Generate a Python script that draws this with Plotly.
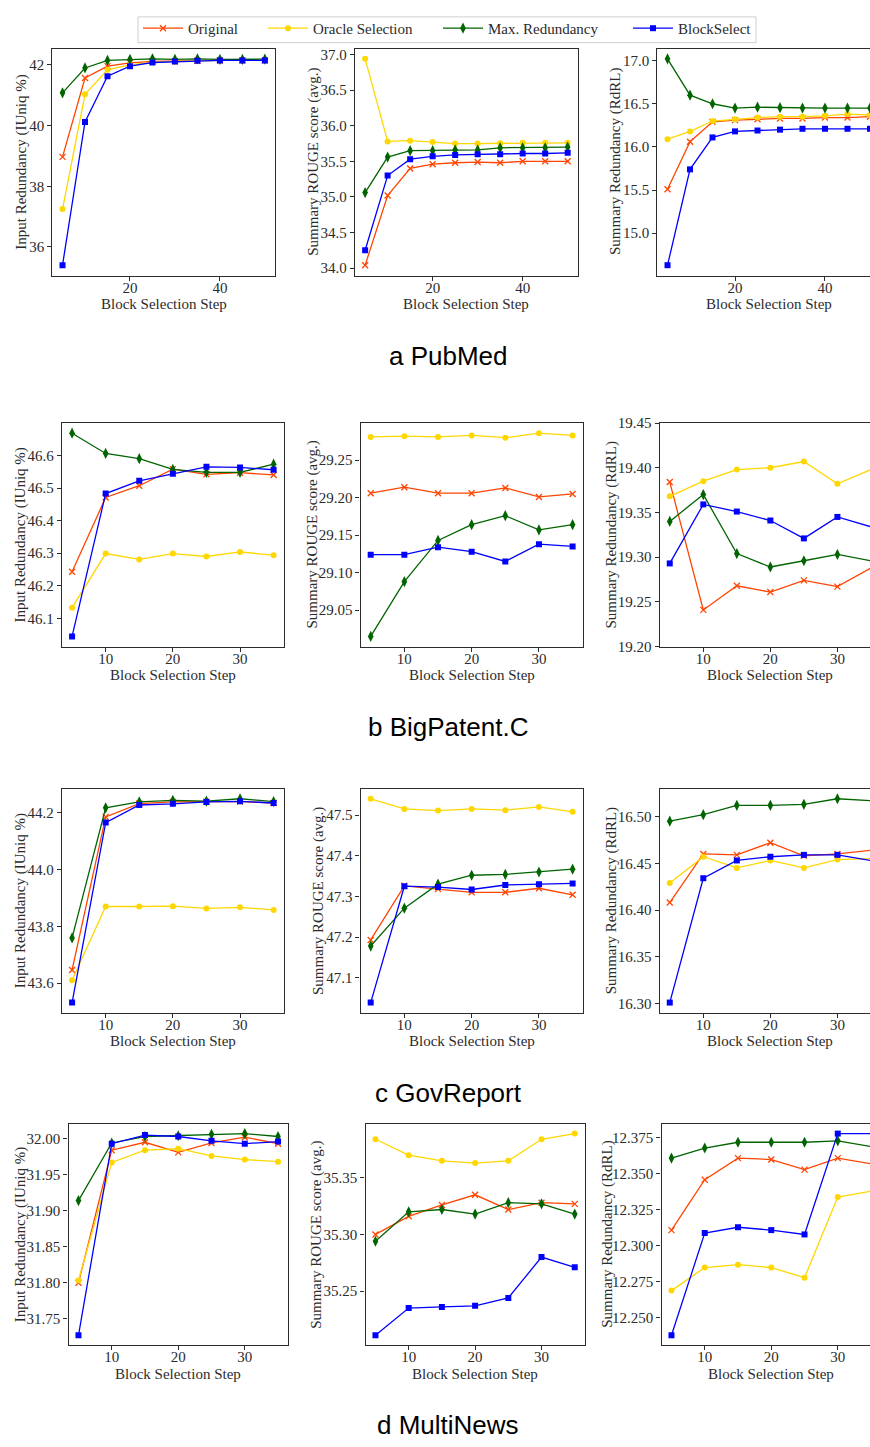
import plotly.graph_objects as go
from plotly.subplots import make_subplots

# ---------------- data ----------------
methods = ["Original", "Oracle Selection", "Max. Redundancy", "BlockSelect"]
steps_pubmed = [5, 10, 15, 20, 25, 30, 35, 40, 45, 50]
steps_short = [5, 10, 15, 20, 25, 30, 35]
row_titles = ["a PubMed", "b BigPatent.C", "c GovReport", "d MultiNews"]
y_titles = ["Input Redundancy (IUniq %)", "Summary ROUGE score (avg.)", "Summary Redundancy (RdRL)"]
x_title = "Block Selection Step"

# PubMed
pubmed_iuniq_original = [38.97, 41.57, 41.96, 42.07, 42.12, 42.12, 42.14, 42.15, 42.15, 42.15]
pubmed_iuniq_oracle = [37.25, 41.03, 41.84, 42.00, 42.09, 42.12, 42.14, 42.15, 42.15, 42.15]
pubmed_iuniq_maxred = [41.08, 41.90, 42.15, 42.18, 42.20, 42.18, 42.20, 42.18, 42.18, 42.19]
pubmed_iuniq_block = [35.40, 40.12, 41.63, 41.96, 42.08, 42.11, 42.14, 42.15, 42.15, 42.15]

pubmed_rouge_original = [34.04, 35.02, 35.40, 35.46, 35.48, 35.49, 35.48, 35.50, 35.50, 35.50]
pubmed_rouge_oracle = [36.94, 35.78, 35.79, 35.77, 35.75, 35.75, 35.755, 35.76, 35.76, 35.76]
pubmed_rouge_maxred = [35.06, 35.56, 35.65, 35.65, 35.66, 35.66, 35.69, 35.69, 35.69, 35.70]
pubmed_rouge_block = [34.25, 35.30, 35.53, 35.57, 35.59, 35.60, 35.60, 35.61, 35.61, 35.62]

pubmed_rdrl_original = [15.51, 16.06, 16.29, 16.31, 16.32, 16.33, 16.33, 16.34, 16.34, 16.35]
pubmed_rdrl_oracle = [16.09, 16.18, 16.30, 16.32, 16.34, 16.35, 16.35, 16.36, 16.38, 16.37]
pubmed_rdrl_maxred = [17.02, 16.60, 16.50, 16.45, 16.46, 16.455, 16.45, 16.45, 16.45, 16.45]
pubmed_rdrl_block = [14.63, 15.74, 16.11, 16.18, 16.19, 16.20, 16.21, 16.21, 16.21, 16.21]

# BigPatent.C
bigpatent_iuniq_original = [46.243, 46.471, 46.507, 46.558, 46.542, 46.547, 46.540]
bigpatent_iuniq_oracle = [46.133, 46.299, 46.281, 46.299, 46.290, 46.304, 46.294]
bigpatent_iuniq_maxred = [46.668, 46.606, 46.590, 46.557, 46.548, 46.548, 46.573]
bigpatent_iuniq_block = [46.045, 46.483, 46.522, 46.544, 46.565, 46.563, 46.556]

bigpatent_rouge_original = [29.206, 29.214, 29.206, 29.206, 29.213, 29.201, 29.205]
bigpatent_rouge_oracle = [29.281, 29.282, 29.281, 29.283, 29.280, 29.286, 29.283]
bigpatent_rouge_maxred = [29.015, 29.088, 29.143, 29.164, 29.176, 29.157, 29.164]
bigpatent_rouge_block = [29.124, 29.124, 29.134, 29.128, 29.115, 29.138, 29.135]

bigpatent_rdrl_original = [19.384, 19.241, 19.268, 19.261, 19.274, 19.267, 19.288]
bigpatent_rdrl_oracle = [19.368, 19.385, 19.398, 19.400, 19.407, 19.382, 19.398]
bigpatent_rdrl_maxred = [19.340, 19.370, 19.304, 19.289, 19.296, 19.303, 19.296]
bigpatent_rdrl_block = [19.293, 19.359, 19.351, 19.341, 19.321, 19.345, 19.334]

# GovReport
govreport_iuniq_original = [43.646, 44.186, 44.233, 44.239, 44.240, 44.240, 44.235]
govreport_iuniq_oracle = [43.610, 43.870, 43.870, 43.871, 43.863, 43.867, 43.858]
govreport_iuniq_maxred = [43.759, 44.218, 44.239, 44.244, 44.242, 44.250, 44.240]
govreport_iuniq_block = [43.531, 44.166, 44.228, 44.232, 44.239, 44.241, 44.235]

govreport_rouge_original = [47.193, 47.326, 47.318, 47.310, 47.310, 47.320, 47.304]
govreport_rouge_oracle = [47.540, 47.515, 47.511, 47.515, 47.512, 47.520, 47.508]
govreport_rouge_maxred = [47.178, 47.271, 47.330, 47.352, 47.354, 47.360, 47.367]
govreport_rouge_block = [47.039, 47.325, 47.323, 47.317, 47.328, 47.330, 47.332]

govreport_rdrl_original = [16.408, 16.460, 16.459, 16.472, 16.458, 16.460, 16.464]
govreport_rdrl_oracle = [16.429, 16.457, 16.445, 16.453, 16.445, 16.454, 16.455]
govreport_rdrl_maxred = [16.495, 16.502, 16.512, 16.512, 16.513, 16.519, 16.517]
govreport_rdrl_block = [16.301, 16.434, 16.453, 16.457, 16.459, 16.459, 16.453]

# MultiNews
multinews_iuniq_original = [31.800, 31.984, 31.995, 31.981, 31.994, 32.002, 31.993]
multinews_iuniq_oracle = [31.803, 31.967, 31.984, 31.986, 31.976, 31.971, 31.968]
multinews_iuniq_maxred = [31.914, 31.994, 32.003, 32.004, 32.006, 32.007, 32.003]
multinews_iuniq_block = [31.727, 31.993, 32.005, 32.003, 31.997, 31.993, 31.996]

multinews_rouge_original = [35.300, 35.316, 35.326, 35.335, 35.322, 35.328, 35.327]
multinews_rouge_oracle = [35.384, 35.370, 35.365, 35.363, 35.365, 35.384, 35.389]
multinews_rouge_maxred = [35.294, 35.320, 35.322, 35.318, 35.328, 35.327, 35.318]
multinews_rouge_block = [35.211, 35.235, 35.236, 35.237, 35.244, 35.280, 35.271]

multinews_rdrl_original = [12.311, 12.346, 12.361, 12.360, 12.353, 12.361, 12.357]
multinews_rdrl_oracle = [12.269, 12.285, 12.287, 12.285, 12.278, 12.334, 12.338]
multinews_rdrl_maxred = [12.361, 12.368, 12.372, 12.372, 12.372, 12.373, 12.369]
multinews_rdrl_block = [12.238, 12.309, 12.313, 12.311, 12.308, 12.378, 12.378]

# y tick spacing / format per panel (row-major)
y_dticks = [2, 0.5, 0.5,
            0.1, 0.05, 0.05,
            0.2, 0.1, 0.05,
            0.05, 0.05, 0.025]
y_formats = [".0f", ".1f", ".1f",
             ".1f", ".2f", ".2f",
             ".1f", ".1f", ".2f",
             ".2f", ".2f", ".3f"]
x_dticks = [20, 10, 10, 10]

# ---------------- assemble panels ----------------
panels = [
    (steps_pubmed, [pubmed_iuniq_original, pubmed_iuniq_oracle, pubmed_iuniq_maxred, pubmed_iuniq_block]),
    (steps_pubmed, [pubmed_rouge_original, pubmed_rouge_oracle, pubmed_rouge_maxred, pubmed_rouge_block]),
    (steps_pubmed, [pubmed_rdrl_original, pubmed_rdrl_oracle, pubmed_rdrl_maxred, pubmed_rdrl_block]),
    (steps_short, [bigpatent_iuniq_original, bigpatent_iuniq_oracle, bigpatent_iuniq_maxred, bigpatent_iuniq_block]),
    (steps_short, [bigpatent_rouge_original, bigpatent_rouge_oracle, bigpatent_rouge_maxred, bigpatent_rouge_block]),
    (steps_short, [bigpatent_rdrl_original, bigpatent_rdrl_oracle, bigpatent_rdrl_maxred, bigpatent_rdrl_block]),
    (steps_short, [govreport_iuniq_original, govreport_iuniq_oracle, govreport_iuniq_maxred, govreport_iuniq_block]),
    (steps_short, [govreport_rouge_original, govreport_rouge_oracle, govreport_rouge_maxred, govreport_rouge_block]),
    (steps_short, [govreport_rdrl_original, govreport_rdrl_oracle, govreport_rdrl_maxred, govreport_rdrl_block]),
    (steps_short, [multinews_iuniq_original, multinews_iuniq_oracle, multinews_iuniq_maxred, multinews_iuniq_block]),
    (steps_short, [multinews_rouge_original, multinews_rouge_oracle, multinews_rouge_maxred, multinews_rouge_block]),
    (steps_short, [multinews_rdrl_original, multinews_rdrl_oracle, multinews_rdrl_maxred, multinews_rdrl_block]),
]

# ---------------- styling ----------------
W, H = 870, 1447
SERIF = "Liberation Serif, Times New Roman, serif"
INK = "#2b2b2b"

styles = [
    dict(color="#FF4500", symbol="x-thin", size=6, line=dict(width=1.3, color="#FF4500")),
    dict(color="#FFD700", symbol="circle", size=6, line=dict(width=0)),
    dict(color="#006400", symbol="diamond-tall", size=8, line=dict(width=0)),
    dict(color="#0000FF", symbol="square", size=6, line=dict(width=0)),
]
legend_widths = [70, 120, 135, 72]

# axes boxes in pixels: (left, right) per column for each row, (top, bottom) per row.
# The right-hand column runs past the page edge, so its visible part stops at W.
col_px = [
    [(52.4, 275.0), (355.0, 577.8), (657.4, 880.1)],
    [(62.0, 283.7), (360.6, 582.7), (659.7, 881.0)],
    [(62.0, 283.7), (360.6, 582.7), (659.7, 881.0)],
    [(68.5, 288.0), (365.5, 584.7), (661.5, 881.0)],
]
row_px = [(41.0, 270.5), (419.7, 645.7), (789.3, 1016.0), (1128.0, 1352.3)]
row_title_y = [352, 727, 1097, 1433]
# horizontal centre of each rotated y-axis title
ytitle_x = [
    [20.7, 312.7, 615.0],
    [20.7, 312.7, 611.7],
    [20.7, 318.3, 611.7],
    [20.7, 316.4, 607.3],
]
XTITLE_GAP = 29

fig = make_subplots(rows=4, cols=3)

for k, (xs, series) in enumerate(panels):
    r, c = divmod(k, 3)
    for m, (name, ys) in enumerate(zip(methods, series)):
        st = styles[m]
        fig.add_trace(
            go.Scatter(
                x=xs, y=ys, name=name, mode="lines+markers",
                line=dict(color=st["color"], width=1.3),
                marker=dict(symbol=st["symbol"], size=st["size"], color=st["color"], line=st["line"]),
                legendgroup=name, showlegend=(k == 0),
                legendwidth=legend_widths[m],
                cliponaxis=(c != 2),
            ),
            row=r + 1, col=c + 1,
        )

    # axis limits with 5% padding around the data
    x_lo, x_hi = min(xs), max(xs)
    xpad = 0.05 * (x_hi - x_lo)
    x_range = [x_lo - xpad, x_hi + xpad]
    all_y = [v for s in series for v in s]
    y_lo, y_hi = min(all_y), max(all_y)
    ypad = 0.05 * (y_hi - y_lo)
    y_range = [y_lo - ypad, y_hi + ypad]
    if k == 5:
        y_range = [19.20, 19.45]

    left, right = col_px[r][c]
    top, bottom = row_px[r]
    x_centre = (left + right) / 2
    if right > W:
        # cut the axis at the page edge, keeping the same data-per-pixel scale
        frac = (W - left) / (right - left)
        x_range = [x_range[0], x_range[0] + (x_range[1] - x_range[0]) * frac]
        right = W

    axis_common = dict(
        showline=True, linecolor=INK, linewidth=1.3,
        ticks="outside", ticklen=4, tickwidth=1, tickcolor=INK,
        showgrid=False, zeroline=False,
        tickfont=dict(family=SERIF, size=15, color=INK),
    )
    fig.update_xaxes(
        axis_common, mirror=True,
        domain=[left / W, right / W],
        range=x_range,
        tick0=0, dtick=x_dticks[r], ticklabelstandoff=-6,
        row=r + 1, col=c + 1,
    )
    fig.update_yaxes(
        axis_common, mirror=(c != 2),
        domain=[1 - bottom / H, 1 - top / H],
        range=y_range,
        tick0=0, dtick=y_dticks[k], tickformat=y_formats[k],
        row=r + 1, col=c + 1,
    )

    # axis titles
    fig.add_annotation(
        text=x_title, xref="paper", yref="paper",
        x=x_centre / W, y=1 - (bottom + XTITLE_GAP) / H,
        xanchor="center", yanchor="middle", showarrow=False,
        font=dict(family=SERIF, size=15, color=INK),
    )
    fig.add_annotation(
        text=y_titles[c], xref="paper", yref="paper", textangle=-90,
        x=ytitle_x[r][c] / W, y=1 - (top + bottom) / 2 / H,
        xanchor="center", yanchor="middle", showarrow=False,
        font=dict(family=SERIF, size=15, color=INK),
    )

for r, title in enumerate(row_titles):
    fig.add_annotation(
        text=title, xref="paper", yref="paper",
        x=448 / W, y=1 - row_title_y[r] / H, xanchor="center", yanchor="middle",
        showarrow=False, font=dict(family="Liberation Sans, Arial, sans-serif", size=26, color="#000"),
    )

# legend frame
fig.add_shape(
    type="rect", xref="paper", yref="paper",
    x0=138 / W, x1=756 / W, y0=1 - 35 / H, y1=1 - 9 / H,
    line=dict(color="#d0d0d0", width=1), fillcolor="white", layer="below",
)

fig.update_layout(
    width=W, height=H,
    margin=dict(l=0, r=0, t=0, b=0),
    paper_bgcolor="white", plot_bgcolor="white",
    legend=dict(
        orientation="h", x=138 / W, xanchor="left", y=1 - 4 / H, yanchor="top",
        font=dict(family=SERIF, size=15, color=INK),
        borderwidth=0, bgcolor="rgba(0,0,0,0)",
        itemwidth=40,
    ),
)

fig.write_html("out.html")
